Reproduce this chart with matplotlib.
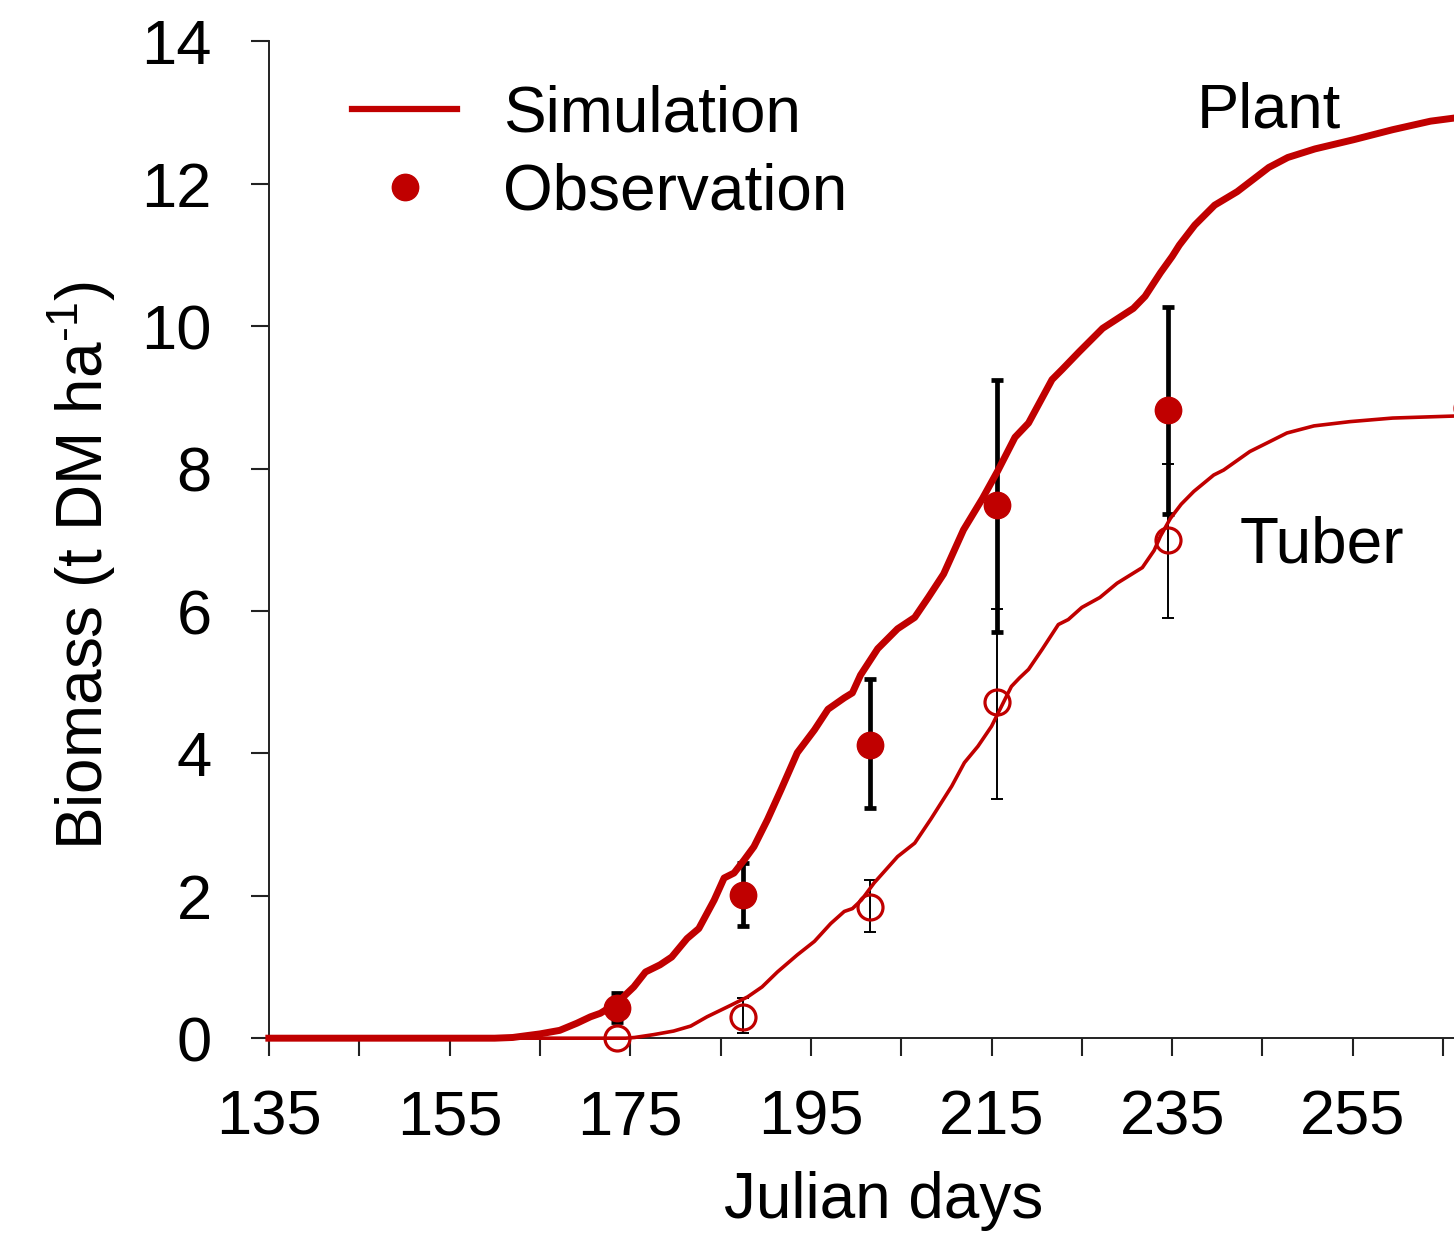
import numpy as np
import matplotlib
matplotlib.use("Agg")
import matplotlib.pyplot as plt
from matplotlib.lines import Line2D

plt.rcParams['font.family'] = ['Liberation Sans', 'DejaVu Sans']
plt.rcParams['mathtext.fontset'] = 'custom'
plt.rcParams['mathtext.rm'] = 'Liberation Sans'
plt.rcParams['mathtext.default'] = 'regular'

RED = '#C00000'

# simulated plant biomass (t DM/ha) by julian day
plant_day = [135, 160, 162, 165, 167.2, 169.1, 170.6, 171.7, 173.5, 175.4,
             176.7, 178.3, 179.6, 181.3, 182.6, 184.3, 185.4, 186.5, 187.6,
             188.7, 190.2, 191.7, 193.5, 195.4, 196.9, 198.7, 199.6, 200.5,
             202.4, 204.6, 206.5, 208.0, 209.7, 211.9, 214.0, 215.7, 217.6,
             219.1, 221.7, 222.8, 224.7, 227.3, 230.7, 232.0, 233.7, 235.0,
             235.8, 237.5, 239.7, 242.2, 245.7, 247.8, 250.8, 255.1, 259.4,
             263.6, 266.6]
plant_sim = [0, 0, 0.01, 0.06, 0.11, 0.21, 0.30, 0.35, 0.49, 0.72,
             0.93, 1.03, 1.14, 1.40, 1.54, 1.94, 2.25, 2.32, 2.50,
             2.69, 3.07, 3.49, 4.01, 4.33, 4.62, 4.78, 4.85, 5.10,
             5.47, 5.75, 5.91, 6.19, 6.52, 7.14, 7.58, 7.97, 8.44,
             8.64, 9.25, 9.39, 9.64, 9.97, 10.25, 10.42, 10.75, 10.98,
             11.14, 11.42, 11.70, 11.89, 12.23, 12.37, 12.49, 12.62, 12.76,
             12.88, 12.93]

# simulated tuber biomass
tuber_day = [135, 174.5, 175.5, 177.6, 179.8, 181.7, 183.5, 186.1, 188.0,
             189.6, 191.3, 193.5, 195.4, 197.2, 198.7, 199.6, 200.6, 202.0,
             204.6, 206.5, 208.3, 210.6, 212.0, 213.5, 215.0, 216.1, 217.2,
             218.1, 219.1, 220.6, 222.4, 223.5, 225.0, 227.0, 228.9, 231.7,
             233.0, 233.7, 234.8, 236.0, 237.4, 239.6, 240.7, 243.6, 245.5,
             247.7, 250.7, 254.7, 259.4, 266.6]
tuber_sim = [0, 0, 0.01, 0.05, 0.10, 0.17, 0.30, 0.46, 0.58,
             0.72, 0.93, 1.17, 1.36, 1.61, 1.78, 1.82, 1.94, 2.18,
             2.55, 2.74, 3.08, 3.54, 3.87, 4.10, 4.38, 4.66, 4.94,
             5.06, 5.18, 5.46, 5.81, 5.88, 6.05, 6.19, 6.39, 6.61,
             6.85, 7.05, 7.30, 7.50, 7.68, 7.91, 7.98, 8.24, 8.36,
             8.50, 8.60, 8.66, 8.71, 8.74]

# observations
obs_day = [173.5, 187.5, 201.6, 215.6, 234.5]
plant_obs = [0.42, 2.01, 4.12, 7.49, 8.82]
plant_lo = [0.23, 1.57, 3.24, 5.71, 7.36]
plant_hi = [0.63, 2.46, 5.05, 9.25, 10.27]

tuber_obs_day = [173.5, 187.5, 201.6, 215.6, 234.5, 267.6]
tuber_obs = [0.0, 0.30, 1.84, 4.72, 7.00, 8.85]
tuber_lo = [0.0, 0.07, 1.49, 3.36, 5.90]
tuber_hi = [0.0, 0.56, 2.22, 6.03, 8.07]

fig = plt.figure(figsize=(14.54, 12.33), dpi=100)
ax = fig.add_axes([0.1849, 0.158, 0.8151, 0.8084])

# error bars (black, behind the lines)
p_err = [np.array(plant_obs) - np.array(plant_lo),
         np.array(plant_hi) - np.array(plant_obs)]
ax.errorbar(obs_day, plant_obs, yerr=p_err, fmt='none', ecolor='black',
            elinewidth=3.4, capsize=4.3, capthick=3.4, zorder=2)
t_err = [np.array(tuber_obs[:5]) - np.array(tuber_lo),
         np.array(tuber_hi) - np.array(tuber_obs[:5])]
ax.errorbar(tuber_obs_day[:5], tuber_obs[:5], yerr=t_err, fmt='none',
            ecolor='black', elinewidth=1.4, capsize=4.3, capthick=1.4, zorder=2)

ax.plot(plant_day, plant_sim, color=RED, lw=5.0, zorder=3, clip_on=False)
ax.plot(tuber_day, tuber_sim, color=RED, lw=2.6, zorder=3, clip_on=False)

ax.plot(obs_day, plant_obs, 'o', color=RED, ms=19, zorder=4, clip_on=False)
ax.plot(tuber_obs_day, tuber_obs, 'o', mfc='none', mec=RED, mew=2.3, ms=18,
        zorder=4, clip_on=False)

ax.text(237.7, 12.79, 'Plant', fontsize=45.5, va='baseline', ha='left')
ax.text(242.5, 6.68, 'Tuber', fontsize=46, va='baseline', ha='left')

ax.set_xlim(135, 266.2)
ax.set_ylim(0, 14)
ax.set_xticks(np.arange(135, 266, 20))
ax.set_xticks(np.arange(145, 266, 20), minor=True)
ax.set_yticks(np.arange(0, 15, 2))
ax.tick_params(which='both', direction='out', length=13, width=1.5,
               color='#222222', labelsize=45.5)
ax.tick_params(axis='x', which='major', pad=23)
ax.tick_params(axis='y', which='major', pad=28)

for s in ['top', 'right']:
    ax.spines[s].set_visible(False)
for s in ['left', 'bottom']:
    ax.spines[s].set_linewidth(1.4)
    ax.spines[s].set_color('#222222')

ax.set_xlabel('Julian days', fontsize=46)
ax.xaxis.set_label_coords(0.519, -0.133)
ax.set_ylabel(r'Biomass (t DM ha$^{\text{-}1}$)', fontsize=46)
ax.yaxis.set_label_coords(-0.1275, 0.474)

handles = [Line2D([], [], color=RED, lw=4.5),
           Line2D([], [], ls='none', marker='o', ms=19, color=RED)]
ax.legend(handles, ['Simulation', 'Observation'], loc='upper left',
          bbox_to_anchor=(0.0701, 0.957), frameon=False, fontsize=46,
          borderpad=0, borderaxespad=0, handlelength=1.65,
          handletextpad=0.72, labelspacing=0.28)

fig.savefig('out.png', dpi=100)
